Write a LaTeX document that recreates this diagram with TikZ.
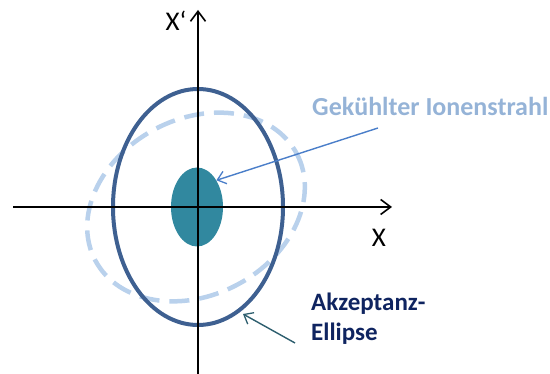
\documentclass[tikz,border=0pt]{standalone}
\usepackage{fontspec}
\setmainfont{Carlito}
\usetikzlibrary{arrows.meta,shapes.geometric}
\definecolor{accC}{RGB}{62,96,145}
\definecolor{dashC}{RGB}{185,209,236}
\definecolor{coreC}{RGB}{49,136,159}
\definecolor{blueArr}{RGB}{74,126,201}
\definecolor{gekC}{RGB}{149,179,215}
\definecolor{akzC}{RGB}{15,36,96}
\definecolor{akzArr}{RGB}{45,94,110}
\tikzset{
  axis/.style={line width=1.8pt,-{Straight Barb[length=10pt,width=15pt,line width=1.6pt]}},
  axlabel/.style={font=\fontsize{27}{30}\selectfont,inner sep=0pt},
  callout/.style={font=\bfseries\fontsize{25}{30}\selectfont,inner sep=0pt},
  pointer/.style={line width=1.4pt,-{Straight Barb[length=8pt,width=13pt,line width=1.3pt]}}
}
\begin{document}
\begin{tikzpicture}[x=1pt,y=-1pt]
\useasboundingbox (0,0) rectangle (550,374);
% dashed cooled beam ellipse (rotated)
\draw[dashC,line width=4.5pt,dash pattern=on 20pt off 10pt,rotate around={28:(196,207)}] (196,207) ellipse [x radius=114,y radius=88];
% core
\node[ellipse,fill=coreC,minimum width=52pt,minimum height=79pt,inner sep=0pt] (core) at (197,207) {};
% acceptance ellipse
\node[ellipse,draw=accC,line width=4pt,minimum width=170pt,minimum height=236pt,inner sep=0pt] (acc) at (198,207) {};
% axes
\coordinate (xs) at (13,207);
\coordinate (xe) at (392,207);
\coordinate (ys) at (198,374);
\coordinate (ye) at (198,10);
\draw[axis] (xs) -- (xe);
\draw[axis] (ys) -- (ye);
\node[axlabel,anchor=base] (xl) at (379,247) {X};
\node[axlabel,anchor=base] (yl) at (176,31) {X‘};
% labels
\node[callout,text=gekC,anchor=base west,font=\bfseries\fontsize{26}{30}\selectfont] (gek) at (312,116) {Gekühlter Ionenstrahl};
\node[callout,text=akzC,anchor=base west,align=left] (akz) at (311,341) {Akzeptanz-\\Ellipse};
\coordinate (gs) at (378,128);
\draw[pointer,blueArr] (gs) -- (core.54);
\coordinate (as) at (295,343);
\coordinate (at) at (243,314);
\draw[pointer,akzArr] (as) -- (at);
\end{tikzpicture}
\end{document}
